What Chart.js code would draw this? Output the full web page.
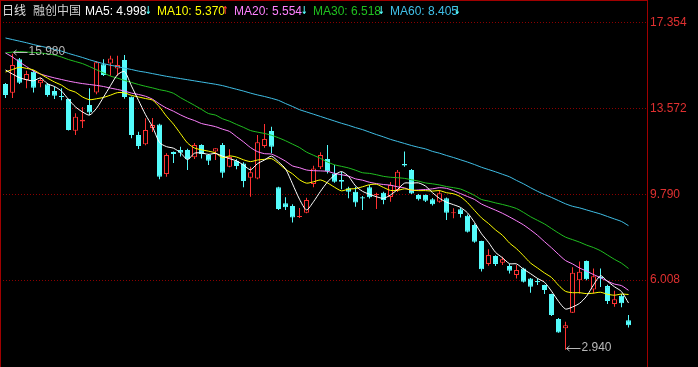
<!DOCTYPE html>
<html><head><meta charset="utf-8">
<script src="https://cdn.jsdelivr.net/npm/chart.js@4.4.1/dist/chart.umd.min.js"></script>
<style>
html,body{margin:0;padding:0;background:#000;}
#wrap{position:relative;width:698px;height:367px;overflow:hidden;background:#000;}
#c{position:absolute;left:0;top:0;}
.h{position:absolute;top:4px;line-height:14px;font-size:12px;font-family:"Liberation Sans",Arial,"Noto Sans CJK SC",sans-serif;white-space:nowrap;}
.a{font-weight:bold;font-family:"DejaVu Sans","Liberation Sans",sans-serif;font-size:11px;transform:scaleX(0.7);transform-origin:left center;}
</style></head><body>
<div id="wrap"><canvas id="c" width="698" height="367"></canvas><div id="hdr"></div></div>
<script>
// ---- data ----
const opens = [14.65,14.27,15.74,14.83,15.19,14.68,14.64,14.34,14.12,13.99,
12.59,13.00,13.73,14.28,15.52,15.56,15.34,15.71,14.09,12.40,
12.00,12.71,12.87,10.68,11.65,11.74,11.74,11.42,11.96,11.52,
11.67,11.96,11.00,11.27,11.15,10.52,10.49,11.92,12.58,10.10,
9.39,9.27,8.79,8.97,10.24,10.98,11.34,10.71,10.42,10.05,
9.90,9.66,10.10,9.76,9.86,9.67,9.98,11.12,10.86,9.76,
9.76,9.57,9.46,9.61,8.95,9.13,8.84,8.43,7.73,6.72,
7.07,6.77,6.63,6.23,6.52,6.08,5.97,5.79,5.39,4.29,
3.88,4.57,6.00,6.85,5.59,6.15,5.74,4.95,5.32,4.24];
const highs = [14.70,15.98,15.80,15.24,15.27,14.93,14.70,14.53,14.46,14.00,
13.36,13.64,14.46,15.67,15.74,15.90,15.90,15.93,14.10,12.55,
13.14,13.15,12.90,11.60,11.67,11.89,11.80,12.05,12.00,11.56,
11.82,12.05,11.77,11.33,11.20,11.00,12.40,12.89,12.77,10.12,
9.66,9.35,9.18,9.64,11.05,11.64,11.96,11.08,10.78,10.12,
10.12,9.71,10.20,9.86,9.90,10.33,10.86,11.67,10.90,9.80,
9.78,9.62,9.98,9.65,9.17,9.20,8.90,8.50,7.74,7.37,
7.10,7.04,6.71,6.67,6.55,6.10,6.08,5.80,5.40,4.33,
4.17,6.57,6.82,6.87,6.52,6.52,5.80,5.54,5.39,4.47];
const lows = [14.03,14.03,14.65,14.46,14.28,14.51,14.09,13.99,13.94,12.60,
12.40,12.71,13.28,14.20,15.00,15.02,15.02,14.00,12.26,11.79,
11.95,12.53,10.45,10.56,11.17,11.45,10.86,11.35,11.37,11.08,
11.30,10.52,10.98,10.89,10.10,9.68,10.45,11.84,11.60,9.10,
9.10,8.55,8.74,8.95,10.10,10.90,10.71,10.30,10.01,9.61,
9.24,9.10,9.60,9.14,9.35,9.46,9.89,11.00,9.80,9.51,
9.45,9.30,9.42,8.65,8.73,8.77,8.10,7.65,6.38,6.64,
6.63,6.67,6.30,6.08,5.90,5.45,5.79,5.39,4.42,3.68,
2.94,4.55,5.42,6.00,5.42,5.70,4.95,4.83,4.81,3.92];
const closes = [14.17,15.49,14.71,15.09,14.49,14.83,14.17,14.13,14.08,12.62,
13.21,13.08,13.39,15.61,15.05,15.78,15.49,14.08,12.40,11.92,
12.62,12.84,10.56,11.52,11.57,11.62,11.33,11.96,11.56,11.27,
11.82,10.74,11.43,11.04,10.37,10.76,12.08,12.23,11.89,9.14,
9.22,8.77,8.83,9.54,10.93,11.52,10.81,10.34,10.34,9.90,
9.43,9.60,9.66,9.80,9.54,10.20,10.78,11.06,9.82,9.57,
9.50,9.35,9.83,8.97,9.00,8.92,8.14,7.70,6.48,7.11,
6.72,6.92,6.42,6.45,5.93,5.71,5.91,5.57,4.47,3.70,
4.02,6.33,6.37,6.04,6.18,6.08,5.08,5.16,4.98,4.02];
const ma5 = [15.27,15.09,14.93,14.84,14.79,14.92,14.66,14.54,14.34,13.97,
13.64,13.42,13.28,13.58,14.07,14.58,15.06,15.20,14.56,13.93,
13.30,12.77,12.07,11.89,11.82,11.62,11.32,11.60,11.61,11.55,
11.59,11.47,11.36,11.26,11.08,10.87,11.14,11.30,11.47,11.22,
10.91,10.25,9.57,9.10,9.46,9.92,10.33,10.63,10.79,10.58,
10.16,9.92,9.79,9.68,9.61,9.76,10.00,10.28,10.28,10.29,
10.15,9.86,9.61,9.44,9.33,9.21,8.97,8.55,8.05,7.67,
7.23,6.99,6.73,6.72,6.49,6.29,6.08,5.91,5.52,5.07,
4.73,4.82,4.98,5.29,5.79,6.20,5.95,5.71,5.50,4.998];
const ma10 = [15.18,15.29,15.39,15.34,15.27,15.09,14.91,14.74,14.60,14.40,
14.29,14.08,13.96,14.00,14.06,14.16,14.27,14.26,14.15,14.08,
14.01,13.94,13.64,13.23,12.88,12.46,12.05,11.83,11.75,11.69,
11.61,11.40,11.48,11.43,11.31,11.23,11.30,11.33,11.36,11.15,
10.89,10.69,10.43,10.28,10.34,10.42,10.29,10.10,9.94,10.02,
10.04,10.12,10.21,10.23,10.09,9.96,9.96,10.03,9.98,9.95,
9.95,9.93,9.95,9.86,9.81,9.68,9.42,9.08,8.75,8.50,
8.22,7.98,7.64,7.39,7.08,6.76,6.54,6.32,6.12,5.78,
5.51,5.45,5.45,5.41,5.43,5.47,5.38,5.34,5.39,5.370];
const ma20 = [16.02,15.84,15.62,15.42,15.22,15.09,15.00,14.92,14.85,14.78,
14.72,14.67,14.63,14.59,14.54,14.47,14.41,14.34,14.25,14.19,
14.11,13.98,13.77,13.59,13.45,13.29,13.15,13.04,12.91,12.84,
12.77,12.66,12.56,12.33,12.10,11.85,11.67,11.58,11.56,11.42,
11.25,11.04,10.96,10.86,10.83,10.82,10.80,10.71,10.65,10.59,
10.47,10.41,10.32,10.26,10.22,10.19,10.12,10.07,9.96,9.98,
10.00,10.03,10.08,10.05,9.95,9.82,9.69,9.56,9.36,9.22,
9.09,8.95,8.79,8.62,8.44,8.22,7.98,7.70,7.43,7.14,
6.87,6.72,6.54,6.40,6.25,6.11,5.96,5.83,5.76,5.554];
const ma30 = [16.02,16.06,16.08,16.06,16.04,16.02,15.98,15.93,15.84,15.73,
15.64,15.55,15.42,15.28,15.14,15.00,14.91,14.81,14.72,14.63,
14.55,14.48,14.40,14.34,14.24,14.05,13.88,13.71,13.53,13.35,
13.28,13.12,13.01,12.87,12.74,12.60,12.53,12.47,12.39,12.28,
12.15,12.00,11.85,11.65,11.51,11.37,11.21,11.09,11.02,10.95,
10.85,10.74,10.71,10.65,10.58,10.54,10.52,10.49,10.43,10.37,
10.29,10.25,10.20,10.13,10.08,10.02,9.89,9.74,9.56,9.49,
9.41,9.34,9.26,9.16,8.99,8.80,8.64,8.48,8.28,8.08,
7.90,7.79,7.68,7.55,7.44,7.30,7.11,6.92,6.75,6.518];
const ma60 = [16.68,16.61,16.54,16.47,16.39,16.32,16.25,16.18,16.10,16.00,
15.91,15.82,15.72,15.63,15.55,15.48,15.42,15.35,15.29,15.22,
15.17,15.11,15.05,14.99,14.94,14.89,14.84,14.79,14.74,14.69,
14.64,14.58,14.50,14.42,14.34,14.25,14.17,14.10,14.02,13.93,
13.79,13.66,13.52,13.42,13.32,13.22,13.12,13.02,12.92,12.83,
12.73,12.64,12.53,12.42,12.32,12.21,12.12,12.03,11.94,11.86,
11.79,11.68,11.60,11.50,11.41,11.31,11.21,11.10,10.98,10.88,
10.78,10.67,10.56,10.40,10.25,10.08,9.92,9.78,9.65,9.51,
9.37,9.26,9.19,9.10,9.01,8.92,8.81,8.70,8.59,8.405];
const tickValues = [6.008, 9.790, 13.572, 17.354];
const tickLabels = ['6.008', '9.790', '13.572', '17.354'];
const maNames = ['MA5', 'MA10', 'MA20', 'MA30', 'MA60'];
const maLast = ['4.998', '5.370', '5.554', '6.518', '8.405'];
const maTrend = ['↓', '↑', '↓', '↓', '↓'];
const chartTitle = ['日线', '融创中国'];

// ---- style ----
const UP = '#ff3232', DOWN = '#54fcfc';
const maColors = ['#ffffff', '#ffff00', '#ff80ff', '#20c020', '#40c0e8'];
const Y_MIN = 2.174, Y_MAX = 18.355;
const X_MIN = -5.5 / 7, X_MAX = -5.5 / 7 + 648 / 7;

// header (real text)
const hdr = document.getElementById('hdr');
function addSpan(txt, left, color, cls) {
  const s = document.createElement('span');
  s.className = 'h' + (cls ? ' ' + cls : ''); s.textContent = txt; s.style.left = left + 'px'; s.style.color = color;
  hdr.appendChild(s);
}
addSpan(chartTitle[0], 2, '#e0e0e0');
addSpan(chartTitle[1], 33, '#d0d0d0');
const nameX = [85, 157, 234, 313, 390];
const arrowX = [145, 222, 301, 378, 454];
maNames.forEach((n, k) => {
  addSpan(n + ': ' + maLast[k], nameX[k], maColors[k]);
  addSpan(maTrend[k], arrowX[k], maTrend[k] === '↑' ? UP : DOWN, 'a');
});

const idx = closes.map((_, i) => i);
const up = idx.map(i => closes[i] >= opens[i]);
const maSets = [ma5, ma10, ma20, ma30, ma60].map((arr, k) => ({
  type: 'line', label: maNames[k],
  data: idx.map(i => ({x: i, y: arr[i]})),
  borderColor: maColors[k], borderWidth: 1, pointRadius: 0, tension: 0.25, fill: false, order: 0
}));

function drawMark(ctx, px, py, txt) {
  const y0 = Math.round(py - 1.5) + 0.5;
  const xs = Math.floor(px) + 1.5;
  const xe = xs + 14;
  ctx.save();
  ctx.strokeStyle = '#b8b8b8'; ctx.fillStyle = '#b8b8b8'; ctx.lineWidth = 1;
  ctx.beginPath();
  ctx.moveTo(xs, y0); ctx.lineTo(xe, y0);
  ctx.moveTo(xs, y0); ctx.lineTo(xs + 3, y0 - 2.5);
  ctx.moveTo(xs, y0); ctx.lineTo(xs + 3, y0 + 2.5);
  ctx.stroke();
  ctx.font = '12px "Liberation Sans", Arial, sans-serif';
  ctx.textBaseline = 'middle'; ctx.textAlign = 'left';
  ctx.fillText(txt, xe + 1, y0 - 0.5);
  ctx.restore();
}

const overlay = {
  id: 'overlay',
  afterDatasetsDraw(chart) {
    const {ctx, scales: {x, y}} = chart;
    const hi = Math.max(...highs), hiI = highs.indexOf(hi);
    const lo = Math.min(...lows), loI = lows.indexOf(lo);
    drawMark(ctx, x.getPixelForValue(hiI), y.getPixelForValue(hi), hi.toFixed(3));
    drawMark(ctx, x.getPixelForValue(loI), y.getPixelForValue(lo), lo.toFixed(3));
  },
  afterDraw(chart) {
    const {ctx, chartArea: a} = chart;
    ctx.save();
    ctx.strokeStyle = '#a00000'; ctx.lineWidth = 1;
    ctx.beginPath();
    ctx.moveTo(0.5, 0); ctx.lineTo(0.5, chart.height);
    ctx.moveTo(0, 0.5); ctx.lineTo(a.right, 0.5);
    ctx.moveTo(a.right - 0.5, 0); ctx.lineTo(a.right - 0.5, chart.height);
    ctx.stroke();
    ctx.restore();
  }
};

new Chart(document.getElementById('c'), {
  type: 'bar',
  data: {
    datasets: [
      ...maSets,
      { type: 'bar', label: 'body', data: idx.map(i => ({x: i, y: [opens[i], closes[i]]})),
        backgroundColor: idx.map(i => up[i] ? '#000000' : DOWN),
        borderColor: idx.map(i => up[i] ? UP : DOWN),
        borderWidth: 1, borderSkipped: false, barThickness: 5, grouped: false, inflateAmount: 0, order: 1 },
      { type: 'bar', label: 'wick', data: idx.map(i => ({x: i, y: [lows[i], highs[i]]})),
        backgroundColor: idx.map(i => up[i] ? UP : DOWN),
        borderWidth: 0, barThickness: 1, grouped: false, inflateAmount: 0, order: 2 }
    ]
  },
  options: {
    responsive: false, animation: false, events: [],
    layout: {padding: 0},
    plugins: {legend: {display: false}, tooltip: {enabled: false}, title: {display: false}},
    scales: {
      x: {type: 'linear', display: false, min: X_MIN, max: X_MAX, offset: false},
      y: {
        position: 'right', min: Y_MIN, max: Y_MAX,
        afterFit(s) { s.width = 50; s.paddingTop = 0; s.paddingBottom = 0; },
        afterBuildTicks(s) { s.ticks = tickValues.map(v => ({value: v})); },
        ticks: {
          color: '#e03030', padding: 2,
          font: {size: 12, family: '"Liberation Sans", Arial, sans-serif'},
          callback: (v) => { const k = tickValues.indexOf(v); return k >= 0 ? tickLabels[k] : ''; }
        },
        grid: {color: '#8b0000', drawTicks: false, lineWidth: 1},
        border: {display: false, dash: [1, 2]}
      }
    }
  },
  plugins: [overlay]
});
</script>
</body></html>
